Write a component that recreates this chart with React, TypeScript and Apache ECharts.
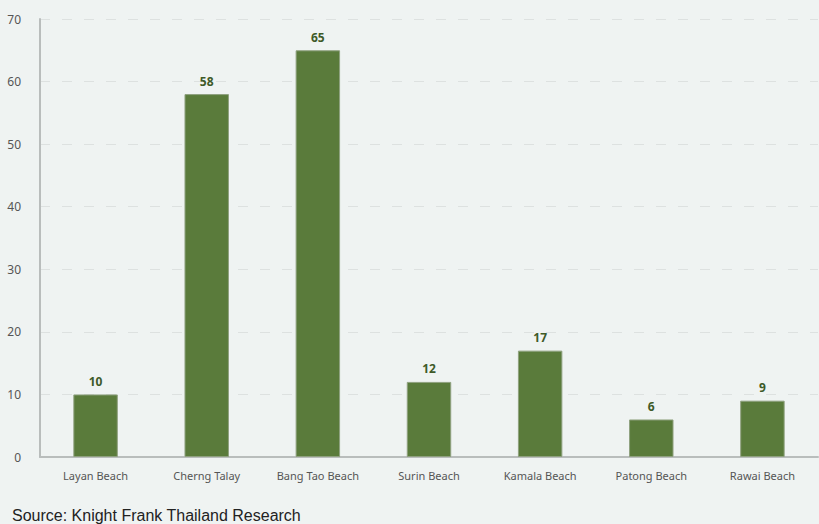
import React, { useEffect, useRef } from "react";
import * as echarts from "echarts";

const categories = ["Layan Beach", "Cherng Talay", "Bang Tao Beach", "Surin Beach", "Kamala Beach", "Patong Beach", "Rawai Beach"];
const values = [10, 58, 65, 12, 17, 6, 9];
const yTicks = [0, 10, 20, 30, 40, 50, 60, 70];

export default function App() {
  const ref = useRef<HTMLDivElement>(null);
  useEffect(() => {
    if (!ref.current) return;
    const chart = echarts.init(ref.current, undefined, { renderer: "svg" });
    chart.setOption({
      animation: false,
      backgroundColor: "#eff3f2",
      grid: { left: 40, right: 1, top: 19, bottom: 67 },
      xAxis: {
        type: "category",
        data: categories,
        axisLine: { lineStyle: { color: "#b9bdbc", width: 2 } },
        axisTick: { show: false },
        axisLabel: { color: "#555", fontSize: 11, fontFamily: "Noto Sans", margin: 13 },
      },
      yAxis: {
        type: "value",
        min: yTicks[0],
        max: yTicks[yTicks.length - 1],
        interval: 10,
        axisLine: { show: true, lineStyle: { color: "#b9bdbc", width: 2 } },
        axisTick: { show: false },
        axisLabel: { color: "#555", fontSize: 12, fontFamily: "Noto Sans", margin: 19 },
        splitLine: { lineStyle: { color: "#dde1e0", type: [10, 12] } },
      },
      series: [
        {
          type: "bar",
          data: values,
          barWidth: "40%",
          itemStyle: { color: "#5a7b3b", borderColor: "#8fa17f", borderWidth: 1 },
          label: {
            show: true,
            position: "top",
            distance: 7,
            color: "#3e5a28",
            fontWeight: "bold",
            fontSize: 12,
            fontFamily: "Noto Sans",
          },
        },
      ],
      graphic: [
        {
          type: "text",
          left: 12,
          top: 507,
          style: { text: "Source: Knight Frank Thailand Research", fill: "#222", fontSize: 16, fontFamily: "Liberation Sans" },
        },
      ],
    });
    return () => chart.dispose();
  }, []);
  return <div ref={ref} style={{ width: 819, height: 524, position: "absolute", left: 0, top: 0 }} />;
}
